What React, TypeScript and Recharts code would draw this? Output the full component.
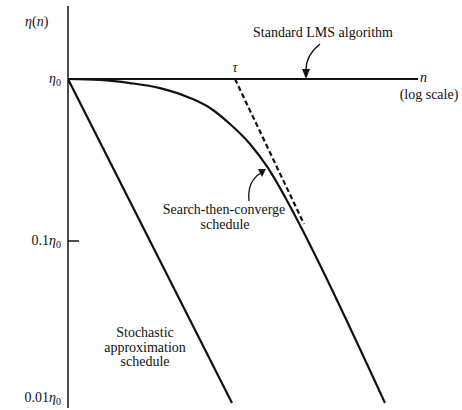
import { LineChart, Line, XAxis, YAxis } from "recharts";

// x = log10(n) (decades from the left edge), y = log10(eta / eta0)
const lmsU = [0, 4.375];
const lmsV = [0, 0];

const stochU = [0, 2.05];
const stochV = [0, -2];

const stcU = [0, 0.4, 0.775, 1.15, 1.525, 1.775, 2.025, 2.275, 2.5, 2.7125, 2.9375, 3.15, 3.9625];
const stcV = [0, -0.006, -0.025, -0.056, -0.117, -0.179, -0.278, -0.401, -0.549, -0.728, -0.938, -1.148, -2.0];

const tauU = [2.0875, 2.95];
const tauV = [0, -0.895];

const yTicks = [0, -1, -2];
const yTickPrefix = ["", "0.1", "0.01"];

const zip = (us: number[], vs: number[]) => us.map((u, i) => ({ u, v: vs[i] }));

const lmsData = zip(lmsU, lmsV);
const stochData = zip(stochU, stochV);
const stcData = zip(stcU, stcV);
const tauData = zip(tauU, tauV);

const FONT = '"Liberation Serif", "DejaVu Serif", serif';

function EtaTick({ y, payload }: any) {
  const i = yTicks.indexOf(payload.value);
  const base = payload.value === -2 ? y - 1 : y + 4;
  return (
    <g>
      {payload.value === -1 && (
        <line x1={68} x2={79} y1={y} y2={y} stroke="#111" strokeWidth={1.5} />
      )}
      <text x={61} y={base} textAnchor="end" fontSize={14} fontFamily={FONT} fill="#111">
        {yTickPrefix[i]}
        <tspan fontStyle="italic">η</tspan>
        <tspan fontSize={10} dy={3}>0</tspan>
      </text>
    </g>
  );
}

export default function App() {
  return (
    <div style={{ position: "absolute", left: 0, top: 0, width: 462, height: 410, background: "#fff", fontFamily: FONT }}>
      <LineChart width={462} height={410} margin={{ top: 6, right: 44, bottom: 2, left: 0 }}>
        <XAxis type="number" dataKey="u" domain={[0, 4.375]} hide allowDataOverflow />
        <YAxis
          type="number"
          dataKey="v"
          domain={[-2.031, 0.4506]}
          ticks={yTicks}
          interval={0}
          width={68}
          tickLine={false}
          axisLine={{ stroke: "#111", strokeWidth: 1.5 }}
          tick={<EtaTick />}
          allowDataOverflow
        />
        <Line data={lmsData} dataKey="v" stroke="#111" strokeWidth={2.2} dot={false} isAnimationActive={false} />
        <Line data={stochData} dataKey="v" stroke="#111" strokeWidth={2.2} dot={false} isAnimationActive={false} />
        <Line data={tauData} dataKey="v" stroke="#111" strokeWidth={2.2} strokeDasharray="5 3" dot={false} isAnimationActive={false} />
        <Line data={stcData} dataKey="v" type="monotone" stroke="#111" strokeWidth={2.2} dot={false} isAnimationActive={false} />
      </LineChart>
      <svg width={462} height={410} style={{ position: "absolute", left: 0, top: 0, pointerEvents: "none" }}>
        <g fontFamily={FONT} fontSize={14} fill="#111">
          <text x={25} y={26}>
            <tspan fontStyle="italic">η</tspan>(<tspan fontStyle="italic">n</tspan>)
          </text>
          <text x={323} y={37} textAnchor="middle">Standard LMS algorithm</text>
          <text x={235} y={72} textAnchor="middle" fontStyle="italic">τ</text>
          <text x={420} y={82} fontStyle="italic">n</text>
          <text x={429} y={99} textAnchor="middle">(log scale)</text>
          <text x={224} y={214} textAnchor="middle">Search-then-converge</text>
          <text x={225} y={229} textAnchor="middle">schedule</text>
          <text x={145} y={337} textAnchor="middle">Stochastic</text>
          <text x={145} y={352} textAnchor="middle">approximation</text>
          <text x={145} y={366} textAnchor="middle">schedule</text>
        </g>
        <path d="M320,44 Q306,55 306,70" fill="none" stroke="#111" strokeWidth={1.3} />
        <path d="M302,69 L310,69 L306,79 Z" fill="#111" />
        <path d="M249,201 Q247,181 261,173" fill="none" stroke="#111" strokeWidth={1.3} />
        <path d="M258,169 L262,177 L266,169 Z" fill="#111" />
      </svg>
    </div>
  );
}
